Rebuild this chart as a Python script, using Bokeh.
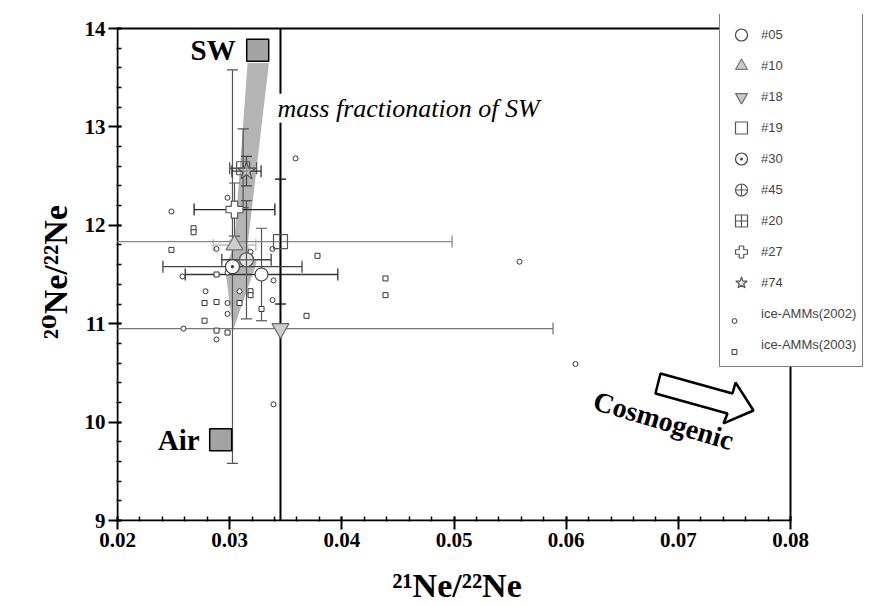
import numpy as np
from bokeh.plotting import figure
from bokeh.models import Range1d, Label, Legend, LegendItem, FixedTicker
from bokeh.embed import file_html
from bokeh.resources import INLINE

# ---------------- data ----------------
samples = ["#05", "#10", "#18", "#19", "#30", "#45", "#20", "#27", "#74"]
ne21 = [0.03284, 0.03043, 0.03453, 0.03453, 0.03025, 0.03150, 0.03120, 0.03043, 0.03150]
ne20 = [11.50, 11.80, 10.95, 11.835, 11.58, 11.65, 12.58, 12.16, 12.55]
ne21_err = [0.0068, 0.0019, 0.0243, 0.0153, 0.0062, 0.0022, 0.0012, 0.0036, 0.0013]
ne20_err = [0.47, 0.05, 3.50, 0.635, 2.00, 0.60, 0.40, 0.27, 0.15]

amm02_x = [0.02981, 0.03587, 0.02481, 0.02883, 0.03186, 0.03382, 0.02981, 0.02579,
           0.03391, 0.02785, 0.03088, 0.03382, 0.02981, 0.02981, 0.02588, 0.02883,
           0.05584, 0.06083, 0.03391]
amm02_y = [12.28, 12.68, 12.14, 11.76, 11.73, 11.76, 11.52, 11.48,
           11.44, 11.33, 11.33, 11.24, 11.21, 11.10, 10.95, 10.84,
           11.63, 10.59, 10.18]
amm03_x = [0.02678, 0.02678, 0.02481, 0.03783, 0.02883, 0.03186, 0.03186, 0.02776,
           0.02883, 0.03088, 0.03284, 0.03685, 0.02776, 0.02883, 0.02981, 0.04389,
           0.04389]
amm03_y = [11.97, 11.93, 11.75, 11.69, 11.50, 11.33, 11.29, 11.21,
           11.22, 11.21, 11.15, 11.08, 11.03, 10.93, 10.91, 11.46,
           11.29]

endmember_names = ["SW", "Air"]
endmember_x = [0.0325, 0.0292]
endmember_y = [13.78, 9.82]

band_x = [0.0316, 0.0335, 0.0316, 0.0324, 0.0303, 0.0296, 0.0304]
band_y = [13.65, 13.65, 11.80, 11.62, 10.93, 11.56, 11.80]

arrow_x = [0.06841, 0.07483, 0.07510, 0.07670, 0.07403, 0.07438, 0.06796]
arrow_y = [10.494, 10.291, 10.402, 10.118, 9.986, 10.087, 10.291]

x_ticks = [0.02, 0.03, 0.04, 0.05, 0.06, 0.07, 0.08]
x_tick_labels = ["0.02", "0.03", "0.04", "0.05", "0.06", "0.07", "0.08"]
y_ticks = [9, 10, 11, 12, 13, 14]
y_tick_labels = ["9", "10", "11", "12", "13", "14"]

# ---------------- styles ----------------
mstyle = {
    "#05": dict(marker="circle", size=13, fill_color="white", fill_alpha=1.0, line_color="#444444"),
    "#10": dict(marker="triangle", size=17, fill_color="#cccccc", fill_alpha=1.0, line_color="#777777"),
    "#18": dict(marker="inverted_triangle", size=17, fill_color="#cccccc", fill_alpha=1.0, line_color="#666666"),
    "#19": dict(marker="square", size=14, fill_color="white", fill_alpha=0.0, line_color="#555555"),
    "#30": dict(marker="circle_dot", size=14, fill_color="white", fill_alpha=1.0, line_color="#444444"),
    "#45": dict(marker="circle_cross", size=14, fill_color="white", fill_alpha=0.6, line_color="#555555"),
    "#20": dict(marker="square_cross", size=13, fill_color="white", fill_alpha=0.0, line_color="#555555"),
    "#27": dict(marker="plus", size=17, fill_color="white", fill_alpha=1.0, line_color="#555555"),
    "#74": dict(marker="star", size=19, fill_color="#dddddd", fill_alpha=0.5, line_color="#555555"),
}
hcolor = {"#05": "#333333", "#10": "#bbbbbb", "#18": "#777777", "#19": "#888888", "#30": "#444444",
          "#45": "#444444", "#20": "#555555", "#27": "#222222", "#74": "#333333"}
vcolor = {"#05": "#555555", "#10": "#bbbbbb", "#18": "black", "#19": "black", "#30": "#555555",
          "#45": "#555555", "#20": "#555555", "#27": "#555555", "#74": "#444444"}
vwidth = {"#18": 2.0}

# ---------------- layout (pixels) ----------------
W, H = 872, 606
FL, FR, FT, FB = 117, 790, 28, 520      # axes box of the data area
XMIN, XMAX = x_ticks[0], x_ticks[-1]
YMIN, YMAX = y_ticks[0], y_ticks[-1]
kx = (FR - FL) / (XMAX - XMIN)
ky = (FB - FT) / (YMAX - YMIN)
# the frame is extended so that the legend box (which overhangs the axes box) is not clipped
frame_left, frame_right, frame_top, frame_bottom = FL - 1, 865, 14, FB + 1
x_range = Range1d(XMIN - (FL - frame_left) / kx, XMAX + (frame_right - FR) / kx)
y_range = Range1d(YMIN - (frame_bottom - FB) / ky, YMAX + (FT - frame_top) / ky)

p = figure(width=W, height=H, x_range=x_range, y_range=y_range,
           output_backend="svg", toolbar_location=None, tools="",
           min_border_left=frame_left, min_border_right=W - frame_right,
           min_border_top=frame_top, min_border_bottom=H - frame_bottom)
p.xgrid.visible = False
p.ygrid.visible = False
p.outline_line_color = None
p.background_fill_color = "white"
p.border_fill_color = "white"

p.xaxis.ticker = FixedTicker(ticks=x_ticks,
                             minor_ticks=[float(v) for v in np.round(np.arange(XMIN, XMAX + 1e-6, 0.002), 4)])
p.yaxis.ticker = FixedTicker(ticks=y_ticks,
                             minor_ticks=[float(v) for v in np.round(np.arange(YMIN, YMAX + 1e-6, 0.2), 2)])
p.xaxis.bounds = (XMIN, XMAX)
p.yaxis.bounds = (YMIN, YMAX)
p.xaxis.major_label_overrides = {t: l for t, l in zip(x_ticks, x_tick_labels)}
p.yaxis.major_label_overrides = {t: l for t, l in zip(y_ticks, y_tick_labels)}
# trailing no-break spaces re-centre the labels on the axes box instead of the widened frame
p.xaxis.axis_label = "\u00b2\u00b9Ne/\u00b2\u00b2Ne" + "\u00a0" * 8
p.yaxis.axis_label = "\u00b2\u2070Ne/\u00b2\u00b2Ne" + "\u00a0"
for ax in (p.xaxis[0], p.yaxis[0]):
    ax.axis_line_color = None
    ax.major_tick_line_width = 2
    ax.minor_tick_line_width = 1.5
    ax.major_tick_out = 8
    ax.major_tick_in = 5
    ax.minor_tick_out = 0
    ax.minor_tick_in = 5
    ax.major_label_standoff = 3
    ax.major_label_text_font = "Liberation Serif"
    ax.major_label_text_font_style = "bold"
    ax.major_label_text_font_size = "21px"
    ax.major_label_text_color = "black"
    ax.axis_label_text_font = "'Liberation Serif', 'DejaVu Serif'"
    ax.axis_label_text_font_style = "bold"
    ax.axis_label_text_font_size = "34px"
    ax.axis_label_text_color = "black"
p.xaxis.axis_label_standoff = 17
p.yaxis.axis_label_standoff = 8

# axes box
p.line([XMIN, XMIN, XMAX, XMAX, XMIN], [YMIN, YMAX, YMAX, YMIN, YMIN],
       line_color="black", line_width=2, line_join="miter")

# mass fractionation band
p.patch(band_x, band_y, fill_color="#b4b4b4", line_color=None)

# error bars (clipped to the axes box)
for i, s in enumerate(samples):
    x, y, ex, ey = ne21[i], ne20[i], ne21_err[i], ne20_err[i]
    xa, xb = max(x - ex, XMIN), min(x + ex, XMAX)
    ya, yb = max(y - ey, YMIN), min(y + ey, YMAX)
    p.segment(x0=[xa], y0=[y], x1=[xb], y1=[y], line_color=hcolor[s], line_width=1.3)
    hc = [v for v in (x - ex, x + ex) if XMIN < v < XMAX]
    if hc:
        p.scatter(x=hc, y=[y] * len(hc), marker="dash", angle=np.pi / 2, size=12,
                  line_color=hcolor[s], line_width=1.3)
    p.segment(x0=[x], y0=[ya], x1=[x], y1=[yb], line_color=vcolor[s], line_width=vwidth.get(s, 1.2))
    vc = [v for v in (y - ey, y + ey) if YMIN < v < YMAX]
    if vc:
        p.scatter(x=[x] * len(vc), y=vc, marker="dash", size=11,
                  line_color=vcolor[s], line_width=vwidth.get(s, 1.2))

# ice-AMMs
r02 = p.scatter(amm02_x, amm02_y, marker="circle", size=5, fill_color="white", line_color="#333333", line_width=1)
r03 = p.scatter(amm03_x, amm03_y, marker="square", size=5, fill_color="white", line_color="#333333", line_width=1)

# samples
rend = {}
for i, s in enumerate(samples):
    rend[s] = p.scatter(x=ne21[i:i + 1], y=ne20[i:i + 1], line_width=1.2, **mstyle[s])

# end members
p.scatter(endmember_x, endmember_y, marker="square", size=22, fill_color="#a3a3a3",
          line_color="black", line_width=1.5)
for name, ex_, ey_, xo in zip(endmember_names, endmember_x, endmember_y, [-22, -21]):
    p.add_layout(Label(x=ex_, y=ey_, text=name, x_offset=xo, text_align="right", text_baseline="middle",
                       text_font="Liberation Serif", text_font_style="bold", text_font_size="29px",
                       text_color="black"))

p.add_layout(Label(x=0.03426, y=13.19, text="mass fractionation of SW", text_align="left",
                   text_baseline="middle", text_font="Liberation Serif", text_font_style="italic",
                   text_font_size="26px", text_color="black",
                   background_fill_color="white", background_fill_alpha=1.0))

# cosmogenic arrow
p.patch(arrow_x, arrow_y, fill_color="white", line_color="black", line_width=2.5)
p.add_layout(Label(x=0.06868, y=10.016, text="Cosmogenic", angle=-0.29, text_align="center",
                   text_baseline="middle", text_font="Liberation Serif", text_font_style="bold",
                   text_font_size="28px", text_color="black"))

# legend (box 719..861 x 14..367 in pixels)
r_blank = p.scatter(x=[], y=[], marker="circle", fill_alpha=0, line_alpha=0)
items1 = [LegendItem(label=s, renderers=[rend[s]]) for s in samples]
items1 += [LegendItem(label="ice-AMMs(2002)", renderers=[r_blank]),
           LegendItem(label="ice-AMMs(2003)", renderers=[r_blank])]
leg_bottom = frame_bottom - 367
leg1 = Legend(items=items1, location=(719 - frame_left, leg_bottom), glyph_width=30, glyph_height=31,
              spacing=0, padding=6, label_standoff=5, label_text_font="Liberation Sans",
              label_text_font_size="13px", label_height=20, border_line_color="black",
              border_line_width=1, background_fill_color="white", background_fill_alpha=1.0, margin=0)
# small-marker overlay for the two ice-AMM entries (their text comes from leg1)
leg2 = Legend(items=[LegendItem(label=" ", renderers=[r02]),
                     LegendItem(label=" ", renderers=[r03])],
              location=(728 - frame_left, leg_bottom), glyph_width=12, glyph_height=31, spacing=0,
              padding=6, label_standoff=0, label_text_font="Liberation Sans", label_text_font_size="13px",
              label_height=20, label_text_alpha=0.0, border_line_color=None,
              background_fill_alpha=0.0, margin=0)
p.add_layout(leg1)
p.add_layout(leg2)

open("out.html", "w").write(file_html(p, INLINE))
